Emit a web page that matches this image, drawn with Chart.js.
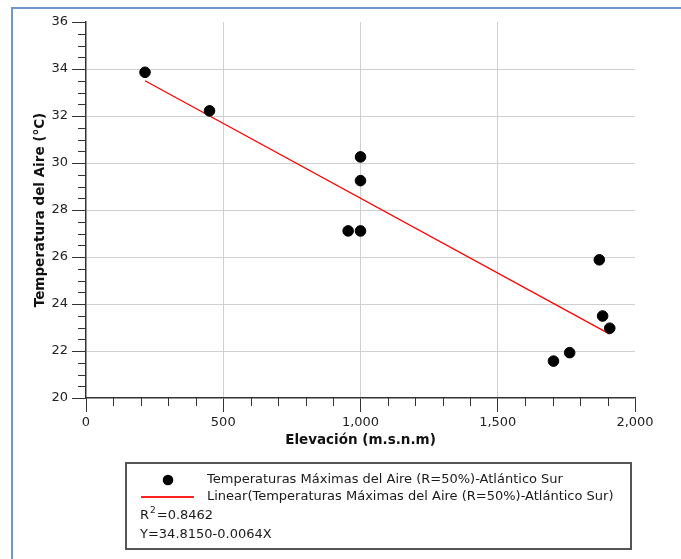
<!DOCTYPE html>
<html>
<head>
<meta charset="utf-8">
<script src="https://cdn.jsdelivr.net/npm/chart.js@4.4.0/dist/chart.umd.min.js"></script>
<style>
    html, body { margin: 0; padding: 0; background: #fff; }
    #wrap { width: 681px; height: 559px; position: relative; }
</style>
</head>
<body>
<div id="wrap"><canvas id="chart"></canvas></div>
<script>
// Data
const elevation = [215, 450, 1000, 1000, 955, 1000, 1870, 1882, 1908, 1703, 1762];
const temperature = [33.86, 32.22, 30.26, 29.25, 27.11, 27.11, 25.88, 23.49, 22.97, 21.57, 21.93];

// Fitted line end points
const trendX = [215, 1908];
const trendY = [33.5, 22.72];

const seriesLabel = 'Temperaturas Máximas del Aire (R=50%)-Atlántico Sur';
const trendLabel = 'Linear(Temperaturas Máximas del Aire (R=50%)-Atlántico Sur)';
const r2Text = '0.8462';
const equationText = 'Y=34.8150-0.0064X';

const xTitle = 'Elevación (m.s.n.m)';
const yTitle = 'Temperatura del Aire (°C)';

const FONT = '"DejaVu Sans", sans-serif';

const points = elevation.map((x, i) => ({ x: x, y: temperature[i] }));
const trend = trendX.map((x, i) => ({ x: x, y: trendY[i] }));

// Minor ticks, frame and legend box
const extrasPlugin = {
    id: 'extras',
    beforeDraw(chart) {
        const ctx = chart.ctx;
        ctx.save();
        ctx.strokeStyle = '#7197ca';
        ctx.lineWidth = 2;
        ctx.beginPath();
        ctx.moveTo(12, 559);
        ctx.lineTo(12, 8);
        ctx.lineTo(681, 8);
        ctx.stroke();
        ctx.restore();
    },
    afterDraw(chart) {
        const ctx = chart.ctx;
        const xs = chart.scales.x;
        const ys = chart.scales.y;
        const area = chart.chartArea;
        ctx.save();
        ctx.strokeStyle = '#333';
        ctx.lineWidth = 1;
        ctx.beginPath();
        for (let v = 20.5; v < 36; v += 0.5) {
            if (v % 2 === 0) continue;
            const py = Math.round(ys.getPixelForValue(v)) + 0.5;
            ctx.moveTo(area.left - 8, py);
            ctx.lineTo(area.left, py);
        }
        for (let v = 100; v < 2000; v += 100) {
            if (v % 500 === 0) continue;
            const px = Math.round(xs.getPixelForValue(v)) + 0.5;
            ctx.moveTo(px, area.bottom);
            ctx.lineTo(px, area.bottom + 8);
        }
        ctx.stroke();

        // legend box
        const bx = 126, by = 463, bw = 505, bh = 86;
        ctx.strokeStyle = '#555';
        ctx.lineWidth = 2;
        ctx.strokeRect(bx, by, bw, bh);

        ctx.fillStyle = '#000';
        ctx.beginPath();
        ctx.arc(168, 480, 5.3, 0, Math.PI * 2);
        ctx.fill();

        ctx.beginPath();
        ctx.strokeStyle = '#ff2020';
        ctx.lineWidth = 2;
        ctx.moveTo(141, 497);
        ctx.lineTo(194, 497);
        ctx.stroke();

        ctx.fillStyle = '#1a1a1a';
        ctx.font = '13px ' + FONT;
        ctx.textBaseline = 'middle';
        ctx.textAlign = 'left';
        ctx.fillText(chart.data.datasets[0].label, 207, 480);
        ctx.fillText(chart.data.datasets[1].label, 207, 497);
        ctx.fillText('R', 140, 516);
        const rw = ctx.measureText('R').width;
        ctx.font = '9px ' + FONT;
        ctx.fillText('2', 140 + rw + 1, 511);
        const sw = ctx.measureText('2').width;
        ctx.font = '13px ' + FONT;
        ctx.fillText('=' + r2Text, 140 + rw + sw + 2, 516);
        ctx.fillText(equationText, 140, 535);
        ctx.restore();
    }
};

const ctx = document.getElementById('chart').getContext('2d');
new Chart(ctx, {
    type: 'scatter',
    data: {
        datasets: [
            {
                label: seriesLabel,
                data: points,
                backgroundColor: '#000',
                borderColor: '#000',
                pointRadius: 5.3,
                pointHoverRadius: 5.3,
                order: 1
            },
            {
                type: 'line',
                label: trendLabel,
                data: trend,
                borderColor: '#ff0000',
                borderWidth: 1.3,
                pointRadius: 0,
                fill: false,
                order: 2
            }
        ]
    },
    options: {
        responsive: true,
        maintainAspectRatio: false,
        animation: false,
        layout: {
            padding: { left: 12, top: 22, right: 46, bottom: 101 }
        },
        plugins: {
            legend: { display: false },
            tooltip: { enabled: false }
        },
        scales: {
            x: {
                type: 'linear',
                min: 0,
                max: 2000,
                afterFit: (scale) => { scale.height = 60; },
                ticks: {
                    stepSize: 500,
                    color: '#222',
                    padding: 3,
                    maxRotation: 0,
                    font: { family: FONT, size: 13 }
                },
                grid: {
                    color: (c) => (c.tick && c.tick.value > 0 && c.tick.value < 2000) ? '#cfcfcf' : 'rgba(0,0,0,0)',
                    tickColor: '#333',
                    tickLength: 14,
                    tickWidth: 1,
                    lineWidth: 1
                },
                border: { display: true, color: '#333', width: 1.5 },
                title: {
                    display: true,
                    text: xTitle,
                    color: '#111',
                    font: { family: FONT, size: 13.5, weight: 'bold' },
                    padding: { top: 0, bottom: 9 }
                }
            },
            y: {
                type: 'linear',
                min: 20,
                max: 36,
                afterFit: (scale) => { scale.width = 74; },
                ticks: {
                    stepSize: 2,
                    color: '#222',
                    padding: 4,
                    font: { family: FONT, size: 13 }
                },
                grid: {
                    color: (c) => (c.tick && c.tick.value > 20 && c.tick.value < 36) ? '#cfcfcf' : 'rgba(0,0,0,0)',
                    tickColor: '#333',
                    tickLength: 14,
                    tickWidth: 1,
                    lineWidth: 1
                },
                border: { display: true, color: '#333', width: 1.5 },
                title: {
                    display: true,
                    text: yTitle,
                    color: '#111',
                    font: { family: FONT, size: 13.5, weight: 'bold' },
                    padding: { top: 20, bottom: 0 }
                }
            }
        }
    },
    plugins: [extrasPlugin]
});
</script>
</body>
</html>
